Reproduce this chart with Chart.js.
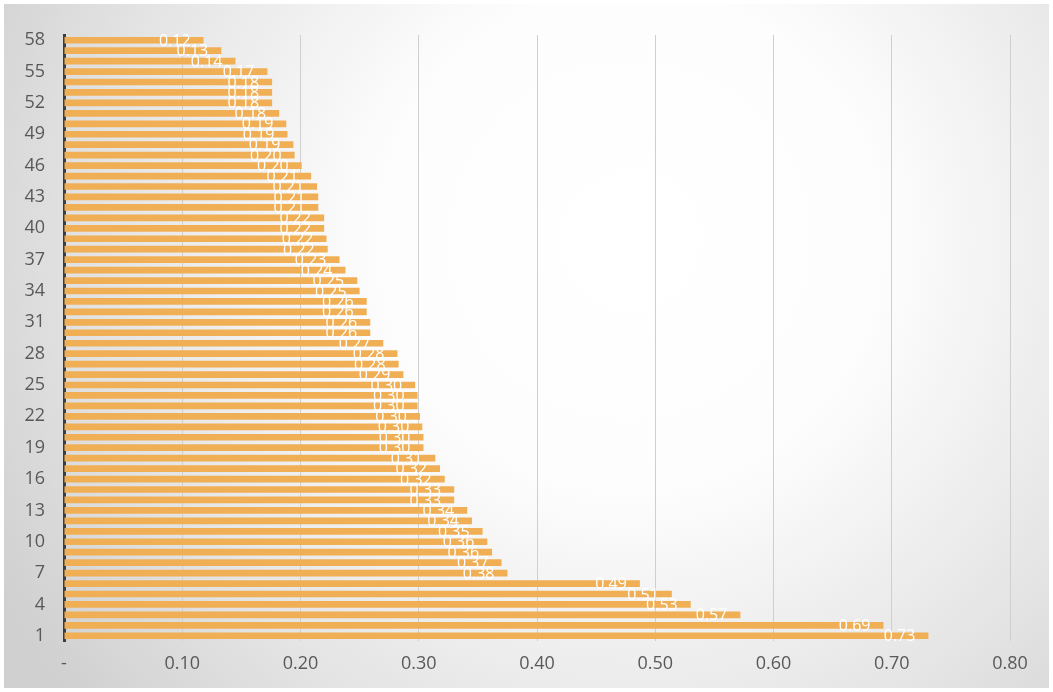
<!DOCTYPE html>
<html>
<head>
<meta charset="utf-8">
<script src="https://cdn.jsdelivr.net/npm/chart.js@4/dist/chart.umd.min.js"></script>
<style>
  html, body { margin: 0; padding: 0; background: #ffffff; }
  #wrap { width: 1053px; height: 692px; }
</style>
</head>
<body>
<div id="wrap"><canvas id="chart" width="1053" height="692"></canvas></div>
<script>
// Category names, bottom (1) to top (58)
const categories = [
  '1','2','3','4','5','6','7','8','9','10',
  '11','12','13','14','15','16','17','18','19','20',
  '21','22','23','24','25','26','27','28','29','30',
  '31','32','33','34','35','36','37','38','39','40',
  '41','42','43','44','45','46','47','48','49','50',
  '51','52','53','54','55','56','57','58'
];

// Value of each category, same order as above
const values = [
  0.731, 0.693, 0.572, 0.530, 0.514, 0.487, 0.375, 0.370, 0.362, 0.358,
  0.354, 0.345, 0.341, 0.330, 0.330, 0.322, 0.318, 0.314, 0.304, 0.304,
  0.303, 0.301, 0.299, 0.299, 0.297, 0.287, 0.283, 0.282, 0.270, 0.259,
  0.259, 0.256, 0.256, 0.250, 0.248, 0.238, 0.233, 0.223, 0.222, 0.220,
  0.220, 0.215, 0.215, 0.214, 0.209, 0.201, 0.195, 0.194, 0.189, 0.188,
  0.182, 0.176, 0.176, 0.176, 0.172, 0.145, 0.133, 0.118
];

// Value-axis tick marks
const xTicks = [0, 0.1, 0.2, 0.3, 0.4, 0.5, 0.6, 0.7, 0.8];
const xTickLabels = ['-', '0.10', '0.20', '0.30', '0.40', '0.50', '0.60', '0.70', '0.80'];

const FONT = '"Open Sans", "Noto Sans", sans-serif';

// Soft radial backdrop behind the whole chart
const backdrop = {
  id: 'backdrop',
  beforeDraw(chart) {
    const ctx = chart.ctx;
    const w = chart.width, h = chart.height;
    ctx.save();
    ctx.fillStyle = '#ffffff';
    ctx.fillRect(0, 0, w, h);
    const g = ctx.createRadialGradient(630, 240, 0, 630, 240, 720);
    g.addColorStop(0, '#ffffff');
    g.addColorStop(0.35, '#fdfdfd');
    g.addColorStop(0.75, '#e3e3e3');
    g.addColorStop(1, '#d0d0d0');
    ctx.fillStyle = g;
    ctx.fillRect(4, 4, w - 8, h - 8);
    ctx.restore();
  }
};

// Value labels drawn just inside the end of each bar
const barLabels = {
  id: 'barLabels',
  afterDatasetsDraw(chart) {
    const ctx = chart.ctx;
    const meta = chart.getDatasetMeta(0);
    ctx.save();
    ctx.font = '16px ' + FONT;
    ctx.fillStyle = '#ffffff';
    ctx.textAlign = 'right';
    ctx.textBaseline = 'middle';
    meta.data.forEach((bar, i) => {
      ctx.fillText(values[i].toFixed(2), bar.x - 13, bar.y + 1);
    });
    ctx.restore();
  }
};

new Chart(document.getElementById('chart'), {
  type: 'bar',
  data: {
    labels: categories,
    datasets: [{
      data: values,
      backgroundColor: '#F0AF55',
      borderWidth: 0,
      barPercentage: 0.64,
      categoryPercentage: 1.0
    }]
  },
  options: {
    indexAxis: 'y',
    responsive: false,
    animation: false,
    devicePixelRatio: 1,
    layout: { padding: { left: 0, top: 35, right: 43, bottom: 0 } },
    plugins: {
      legend: { display: false },
      tooltip: { enabled: false }
    },
    scales: {
      x: {
        min: 0,
        max: 0.8,
        afterBuildTicks(scale) {
          scale.ticks = xTicks.map(v => ({ value: v }));
        },
        afterFit(scale) { scale.height = 51; },
        grid: { color: '#cfcfcf', lineWidth: 1, drawTicks: false },
        border: { display: false },
        ticks: {
          padding: 12,
          color: '#595959',
          font: { family: FONT, size: 18 },
          callback: (v, i) => xTickLabels[i]
        }
      },
      y: {
        reverse: true,
        afterFit(scale) { scale.width = 64; },
        grid: { display: false, drawTicks: false },
        border: { display: true, color: '#3c3c3c', width: 3 },
        ticks: {
          autoSkip: false,
          padding: 19,
          color: '#595959',
          font: { family: FONT, size: 18 },
          callback: (v, i) => (i % 3 === 0 ? categories[i] : '')
        }
      }
    }
  },
  plugins: [backdrop, barLabels]
});
</script>
</body>
</html>
